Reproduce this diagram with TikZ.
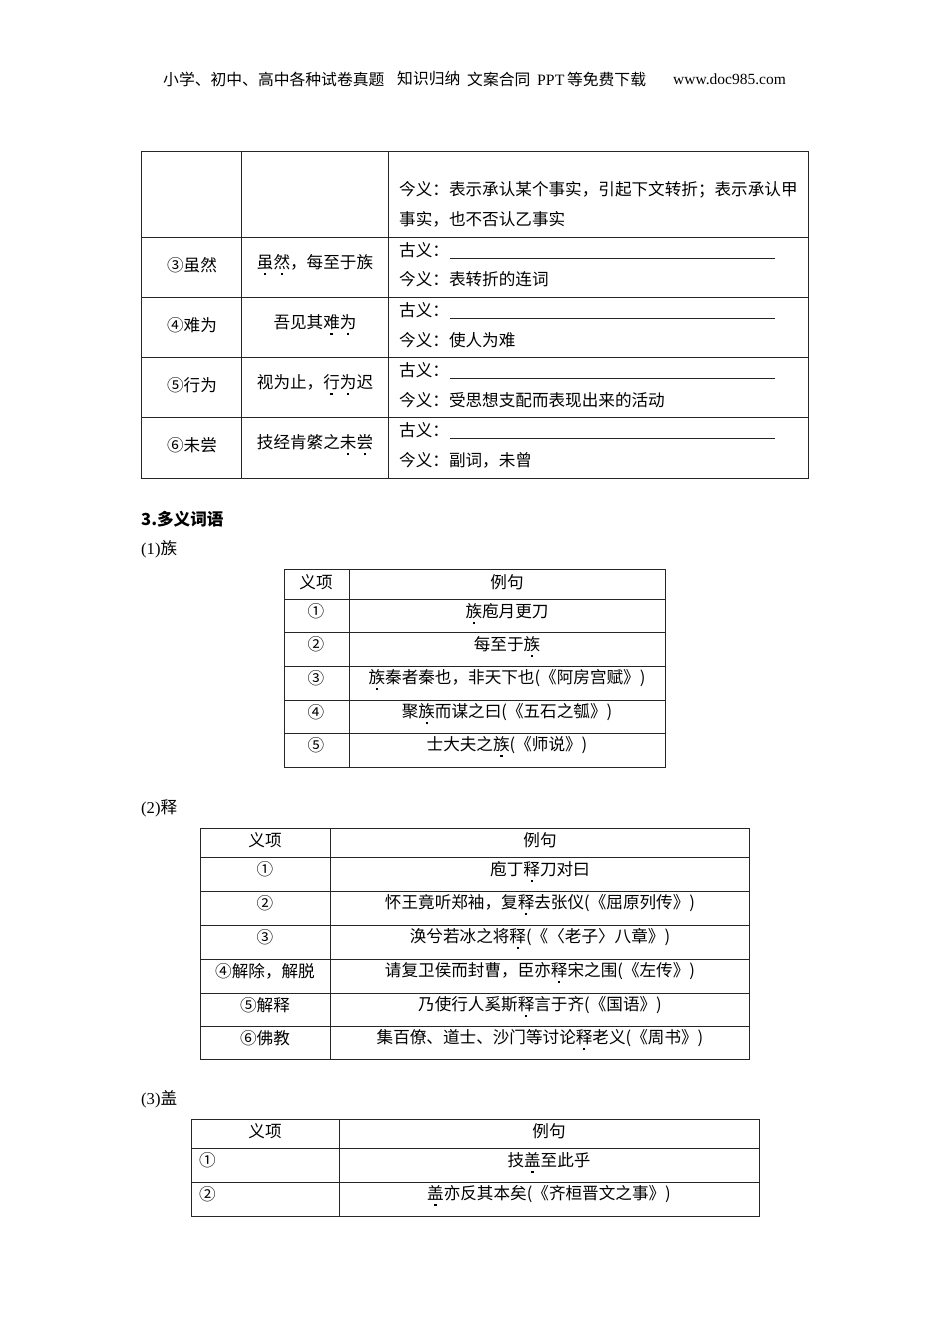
\documentclass[tikz,border=0pt]{standalone}
\usepackage{fontspec}
\setmainfont{Noto Sans CJK SC}
\newfontfamily\lat{Liberation Serif}
\newcommand\zd[1]{\ooalign{#1\cr\hidewidth\raisebox{-0.42em}[0pt][0pt]{\rule{2.3pt}{2.3pt}}\hidewidth\cr}}
\tikzset{
  tabline/.style={line width=0.9pt, draw=black!85},
  blankline/.style={line width=0.6pt, draw=black!85},
  celltext/.style={inner sep=0pt, font=\fontsize{16.6}{20}\selectfont},
  headtext/.style={inner sep=0pt, anchor=west, font=\fontsize{15.8}{18}\selectfont}
}
\begin{document}
\begin{tikzpicture}[x=1pt,y=-1pt]
\useasboundingbox (0,0) rectangle (950,1344);
\node[headtext] (hd1) at (163,79) {小学、初中、高中各种试卷真题};
\node[headtext] (hd2) at (397,79) {知识归纳};
\node[headtext] (hd3) at (467,79) {文案合同};
\node[headtext] (hd4) at (537,79) {{\lat PPT\,}等免费下载};
\node[headtext,font=\fontsize{15.5}{18}\selectfont\lat] (url) at (673,79) {www.doc985.com};

\draw[tabline] (141,151) rectangle (808,478);
\draw[tabline] (241,151) -- (241,478) (388,151) -- (388,478);
\foreach \y in {237,297,357,417} \draw[tabline] (141,\y) -- (808,\y);
\node[celltext,anchor=west] (ja) at (399,190) {今义：表示承认某个事实，引起下文转折；表示承认甲};
\node[celltext,anchor=west] (jb) at (399,219) {事实，也不否认乙事实};

\node[celltext] (w3) at (192,265) {③虽然};
\node[celltext] (s3) at (315,262) {\zd{虽}\zd{然}，每至于族};
\node[celltext,anchor=west] (g3) at (399,250) {古义：};
\draw[blankline] (450,258) -- (775,258);
\node[celltext,anchor=west] (j3) at (399,279) {今义：表转折的连词};

\node[celltext] (w4) at (192,325) {④难为};
\node[celltext] (s4) at (315,322) {吾见其\zd{难}\zd{为}};
\node[celltext,anchor=west] (g4) at (399,310) {古义：};
\draw[blankline] (450,318) -- (775,318);
\node[celltext,anchor=west] (j4) at (399,340) {今义：使人为难};

\node[celltext] (w5) at (192,385) {⑤行为};
\node[celltext] (s5) at (315,382) {视为止，\zd{行}\zd{为}迟};
\node[celltext,anchor=west] (g5) at (399,370) {古义：};
\draw[blankline] (450,378) -- (775,378);
\node[celltext,anchor=west] (j5) at (399,400) {今义：受思想支配而表现出来的活动};

\node[celltext] (w6) at (192,445) {⑥未尝};
\node[celltext] (s6) at (315,442) {技经肯綮之\zd{未}\zd{尝}};
\node[celltext,anchor=west] (g6) at (399,430) {古义：};
\draw[blankline] (450,438) -- (775,438);
\node[celltext,anchor=west] (j6) at (399,460) {今义：副词，未曾};

\node[celltext,anchor=west,font=\fontsize{16.6}{20}\selectfont\bfseries] (sec) at (141,519) {3.多义词语};
\node[celltext,anchor=west] (p1) at (141,549) {{\lat(1)}族};

\draw[tabline] (284,569) rectangle (665,767);
\draw[tabline] (349,569) -- (349,767);
\foreach \y in {599,632,666,700,733} \draw[tabline] (284,\y) -- (665,\y);
\node[celltext] (h1a) at (316,582) {义项};
\node[celltext] (h1b) at (507,582) {例句};
\node[celltext] (a1) at (316,611) {①};
\node[celltext] (b1) at (507,611) {\zd{族}庖月更刀};
\node[celltext] (a2) at (316,644) {②};
\node[celltext] (b2) at (507,644) {每至于\zd{族}};
\node[celltext] (a3) at (316,678) {③};
\node[celltext] (b3) at (507,678) {\zd{族}秦者秦也，非天下也(《阿房宫赋》)};
\node[celltext] (a4) at (316,712) {④};
\node[celltext] (b4) at (507,712) {聚\zd{族}而谋之曰(《五石之瓠》)};
\node[celltext] (a5) at (316,745) {⑤};
\node[celltext] (b5) at (507,745) {士大夫之\zd{族}(《师说》)};

\node[celltext,anchor=west] (p2) at (141,808) {{\lat(2)}释};

\draw[tabline] (200,828) rectangle (749,1059);
\draw[tabline] (330,828) -- (330,1059);
\foreach \y in {857,891,925,959,993,1026} \draw[tabline] (200,\y) -- (749,\y);
\node[celltext] (h2a) at (265,840) {义项};
\node[celltext] (h2b) at (540,840) {例句};
\node[celltext] (c1) at (265,869) {①};
\node[celltext] (d1) at (540,869) {庖丁\zd{释}刀对曰};
\node[celltext] (c2) at (265,903) {②};
\node[celltext] (d2) at (540,903) {怀王竟听郑袖，复\zd{释}去张仪(《屈原列传》)};
\node[celltext] (c3) at (265,937) {③};
\node[celltext] (d3) at (540,937) {涣兮若冰之将\zd{释}(《〈老子〉八章》)};
\node[celltext] (c4) at (265,971) {④解除，解脱};
\node[celltext] (d4) at (540,971) {请复卫侯而封曹，臣亦\zd{释}宋之围(《左传》)};
\node[celltext] (c5) at (265,1005) {⑤解释};
\node[celltext] (d5) at (540,1005) {乃使行人奚斯\zd{释}言于齐(《国语》)};
\node[celltext] (c6) at (265,1038) {⑥佛教};
\node[celltext] (d6) at (540,1038) {集百僚、道士、沙门等讨论\zd{释}老义(《周书》)};

\node[celltext,anchor=west] (p3) at (141,1099) {{\lat(3)}盖};

\draw[tabline] (191,1119) rectangle (759,1216);
\draw[tabline] (339,1119) -- (339,1216);
\draw[tabline] (191,1148) -- (759,1148) (191,1182) -- (759,1182);
\node[celltext] (h3a) at (265,1131) {义项};
\node[celltext] (h3b) at (549,1131) {例句};
\node[celltext,anchor=west] (e1) at (199,1160) {①};
\node[celltext] (f1) at (549,1160) {技\zd{盖}至此乎};
\node[celltext,anchor=west] (e2) at (199,1194) {②};
\node[celltext] (f2) at (549,1194) {\zd{盖}亦反其本矣(《齐桓晋文之事》)};
\end{tikzpicture}
\end{document}
